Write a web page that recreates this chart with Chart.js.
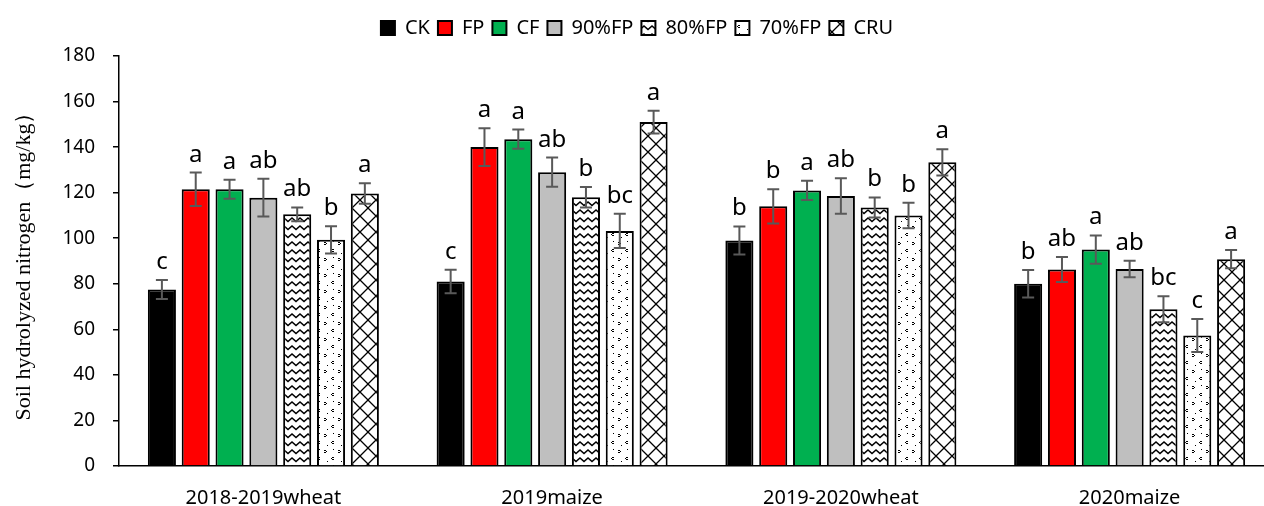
<!DOCTYPE html>
<html>
<head>
<meta charset="utf-8">
<script src="https://cdn.jsdelivr.net/npm/chart.js@4/dist/chart.umd.min.js"></script>
<style>
  html, body { margin: 0; padding: 0; background: #fff; overflow: hidden; }
</style>
</head>
<body>
<canvas id="nChart" width="1274" height="506"></canvas>
<script>
const categories = ["2018-2019wheat", "2019maize", "2019-2020wheat", "2020maize"];
const treatments = ["CK", "FP", "CF", "90%FP", "80%FP", "70%FP", "CRU"];
const yTicks = [0, 20, 40, 60, 80, 100, 120, 140, 160, 180];

const ckValues    = [77.5, 81.0, 99.0, 80.0];
const fpValues    = [121.5, 140.0, 114.0, 86.3];
const cfValues    = [121.5, 143.5, 121.0, 95.0];
const fp90Values  = [117.8, 129.0, 118.5, 86.5];
const fp80Values  = [110.5, 118.0, 113.5, 68.8];
const fp70Values  = [99.3, 103.2, 110.0, 57.3];
const cruValues   = [119.6, 151.0, 133.3, 90.8];

const ckErr   = [4.2, 5.2, 6.2, 6.0];
const fpErr   = [7.3, 8.3, 7.5, 5.5];
const cfErr   = [4.2, 4.2, 4.2, 6.2];
const fp90Err = [8.3, 6.4, 7.8, 3.6];
const fp80Err = [3.0, 4.5, 4.4, 5.7];
const fp70Err = [6.0, 7.5, 5.6, 7.2];
const cruErr  = [4.5, 5.0, 5.8, 4.0];

const ckLetters   = ["c", "c", "b", "b"];
const fpLetters   = ["a", "a", "b", "ab"];
const cfLetters   = ["a", "a", "a", "a"];
const fp90Letters = ["ab", "ab", "ab", "ab"];
const fp80Letters = ["ab", "b", "b", "bc"];
const fp70Letters = ["b", "bc", "b", "c"];
const cruLetters  = ["a", "a", "a", "a"];

// hatch fills like the excel pattern fills
function makePattern(kind){
    const c = document.createElement("canvas");
    const g = c.getContext("2d");
    if(kind === "zigzag"){
        c.width = 8; c.height = 8;
        g.fillStyle = "#fff"; g.fillRect(0, 0, 8, 8);
        g.strokeStyle = "#000";
        g.lineWidth = 1.5;
        g.beginPath();
        g.moveTo(-1, 6.5); g.lineTo(4, 2); g.lineTo(9, 6.5);
        g.stroke();
    } else if(kind === "dots"){
        c.width = 14; c.height = 16;
        g.fillStyle = "#fff"; g.fillRect(0, 0, 14, 16);
        g.fillStyle = "#000";
        g.fillRect(2, 2, 2, 1); g.fillRect(4, 3, 1, 1); g.fillRect(2, 4, 2, 1);
        g.fillRect(10, 9, 2, 1); g.fillRect(9, 10, 1, 1); g.fillRect(10, 11, 2, 1);
        g.fillRect(11, 1, 1, 1);
        g.fillRect(5, 13, 1, 1);
    } else {
        c.width = 16; c.height = 16;
        g.fillStyle = "#fff"; g.fillRect(0, 0, 16, 16);
        g.strokeStyle = "#000";
        g.lineWidth = 1.3;
        g.beginPath();
        g.moveTo(0, 0); g.lineTo(16, 16);
        g.moveTo(16, 0); g.lineTo(0, 16);
        g.stroke();
    }
    return g.createPattern(c, "repeat");
}

const fills = ["#000000", "#ff0000", "#00b050", "#bfbfbf", makePattern("zigzag"), makePattern("dots"), makePattern("lattice")];
const seriesValues = [ckValues, fpValues, cfValues, fp90Values, fp80Values, fp70Values, cruValues];
const seriesErr = [ckErr, fpErr, cfErr, fp90Err, fp80Err, fp70Err, cruErr];
const seriesLetters = [ckLetters, fpLetters, cfLetters, fp90Letters, fp80Letters, fp70Letters, cruLetters];

const datasets = treatments.map((t, i) => ({
    label: t,
    data: seriesValues[i],
    backgroundColor: fills[i],
    borderColor: "#000",
    borderWidth: 2,
    categoryPercentage: 0.82,
    barPercentage: 0.83
}));

// error bars and significance letters
const errorBars = {
    id: "errorBars",
    afterDatasetsDraw(chart){
        const c = chart.ctx;
        const y = chart.scales.y;
        c.save();
        chart.data.datasets.forEach((ds, i) => {
            const meta = chart.getDatasetMeta(i);
            meta.data.forEach((bar, j) => {
                const v = seriesValues[i][j];
                const e = seriesErr[i][j];
                const top = y.getPixelForValue(v + e);
                const bot = y.getPixelForValue(v - e);
                c.strokeStyle = "#595959";
                c.lineWidth = 2;
                c.beginPath();
                c.moveTo(bar.x, top); c.lineTo(bar.x, bot);
                c.moveTo(bar.x - 6, top); c.lineTo(bar.x + 6, top);
                c.moveTo(bar.x - 6, bot); c.lineTo(bar.x + 6, bot);
                c.stroke();
                c.fillStyle = "#000";
                c.font = "24px 'Noto Sans'";
                c.textAlign = "center";
                c.textBaseline = "alphabetic";
                c.fillText(seriesLetters[i][j], bar.x, top - 11);
            });
        });
        c.restore();
    }
};

const legendHeight = {
    id: "legendHeight",
    beforeInit(chart){
        const fit = chart.legend.fit;
        chart.legend.fit = function(){
            fit.bind(chart.legend)();
            this.height = 46;
        };
    }
};

new Chart(document.getElementById("nChart"), {
    type: "bar",
    data: { labels: categories, datasets: datasets },
    options: {
        responsive: false,
        animation: false,
        layout: { padding: { top: 10, left: 0, right: 0, bottom: 0 } },
        plugins: {
            legend: {
                position: "top",
                labels: {
                    color: "#000",
                    font: { family: "Noto Sans", size: 20 },
                    boxWidth: 14,
                    boxHeight: 14,
                    padding: 8
                }
            },
            tooltip: { enabled: false }
        },
        scales: {
            x: {
                grid: { display: false },
                border: { display: true, color: "#000", width: 1.5 },
                ticks: { color: "#000", font: { family: "Noto Sans", size: 20 }, padding: 12 },
                afterFit: s => { s.height = 40; }
            },
            y: {
                min: 0,
                max: 180,
                afterBuildTicks: s => { s.ticks = yTicks.map(v => ({ value: v })); },
                grid: { drawOnChartArea: false, tickLength: 6, color: "#000", lineWidth: 1.5 },
                border: { display: true, color: "#000", width: 1.5 },
                ticks: { color: "#000", font: { family: "Noto Sans", size: 19 }, padding: 18 },
                title: {
                    display: true,
                    text: "Soil hydrolyzed nitrogen（mg/kg）",
                    color: "#000",
                    font: { family: "Liberation Serif", size: 22 },
                    padding: { top: 11, bottom: 0 }
                },
                afterFit: s => { s.width = 119; }
            }
        }
    },
    plugins: [errorBars, legendHeight]
});
</script>
</body>
</html>
